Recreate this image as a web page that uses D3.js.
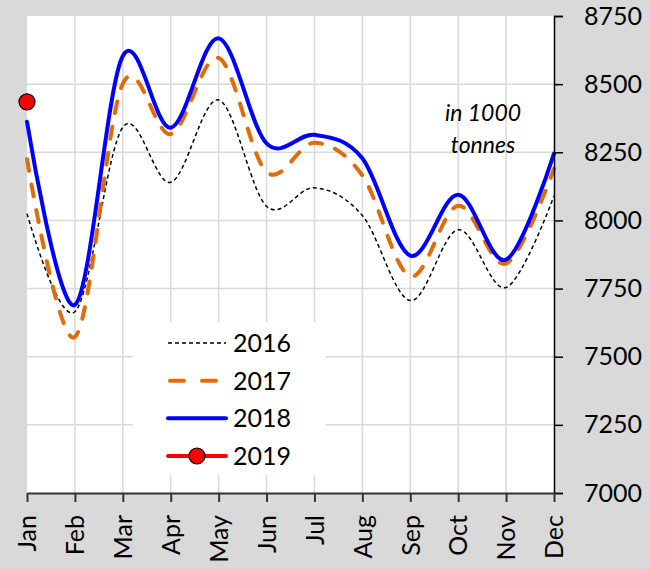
<!DOCTYPE html>
<html>
<head>
<meta charset="utf-8">
<script src="https://cdn.jsdelivr.net/npm/d3@7"></script>
<style>
  body { margin: 0; background: #d9d9d9; }
  text { font-family: Lato, "Liberation Sans", sans-serif; fill: #000; }
</style>
</head>
<body>
<div id="chart"></div>
<script>
var ctx = {
    w: 649,
    h: 569,
    left: 27,
    right: 554,
    top: 16,
    bottom: 493
};

var months = ["Jan", "Feb", "Mar", "Apr", "May", "Jun", "Jul", "Aug", "Sep", "Oct", "Nov", "Dec"];
var yTicks = [7000, 7250, 7500, 7750, 8000, 8250, 8500, 8750];
var years = ["2016", "2017", "2018", "2019"];

var v2016 = [8025, 7665, 8342, 8140, 8442, 8052, 8120, 8018, 7706, 7966, 7754, 8090];
var v2017 = [8225, 7572, 8502, 8317, 8596, 8178, 8285, 8165, 7795, 8054, 7842, 8190];
var v2018 = [8362, 7690, 8603, 8340, 8668, 8283, 8314, 8228, 7871, 8094, 7856, 8245];
var v2019 = [8435];

var styles = {
    "2016": { color: "#000", width: 1.5, dash: "4,3", cap: "butt" },
    "2017": { color: "#e36c0a", width: 4, dash: "12,14", cap: "round" },
    "2018": { color: "#0000ff", width: 4, dash: null, cap: "round" },
    "2019": { color: "#ff0000", width: 4, dash: null, cap: "round" }
};

var svg = d3.select("#chart").append("svg")
    .attr("width", ctx.w)
    .attr("height", ctx.h);

svg.append("rect")
    .attr("width", ctx.w).attr("height", ctx.h)
    .attr("fill", "#d9d9d9");

var x = d3.scalePoint()
    .domain(months)
    .range([ctx.left, ctx.right]);

var y = d3.scaleLinear()
    .domain([7000, 8750])
    .range([ctx.bottom, ctx.top]);

// plot area
svg.append("rect")
    .attr("x", ctx.left).attr("y", ctx.top)
    .attr("width", ctx.right - ctx.left)
    .attr("height", ctx.bottom - ctx.top)
    .attr("fill", "#fff");

// grid
svg.append("g").selectAll("line.v")
    .data(months.slice(1, 11))
    .enter().append("line")
    .attr("x1", function (d) { return x(d); })
    .attr("x2", function (d) { return x(d); })
    .attr("y1", ctx.top).attr("y2", ctx.bottom)
    .attr("stroke", "#d9d9d9").attr("stroke-width", 1.5);

svg.append("g").selectAll("line.h")
    .data(yTicks.slice(1, 7))
    .enter().append("line")
    .attr("x1", ctx.left).attr("x2", ctx.right)
    .attr("y1", function (d) { return y(d); })
    .attr("y2", function (d) { return y(d); })
    .attr("stroke", "#d9d9d9").attr("stroke-width", 1.5);

// series
var line = d3.line()
    .x(function (d, i) { return x(months[i]); })
    .y(function (d) { return y(d); })
    .curve(d3.curveCardinal.tension(0));

var series = [["2016", v2016], ["2017", v2017], ["2018", v2018]];
series.forEach(function (s) {
    var st = styles[s[0]];
    svg.append("path")
        .datum(s[1])
        .attr("d", line)
        .attr("fill", "none")
        .attr("stroke", st.color)
        .attr("stroke-width", st.width)
        .attr("stroke-linecap", st.cap)
        .attr("stroke-dasharray", st.dash);
});

svg.selectAll("circle.p2019")
    .data(v2019)
    .enter().append("circle")
    .attr("cx", function (d, i) { return x(months[i]); })
    .attr("cy", function (d) { return y(d); })
    .attr("r", 8)
    .attr("fill", "#ff0000")
    .attr("stroke", "#000")
    .attr("stroke-width", 1.2);

// axes
var yAxis = d3.axisRight(y)
    .tickValues(yTicks)
    .tickSize(9)
    .tickPadding(21)
    .tickFormat(d3.format("d"));

var gy = svg.append("g")
    .attr("transform", "translate(" + ctx.right + ",0)")
    .call(yAxis);
gy.select(".domain").attr("stroke", "#000").attr("stroke-width", 1.5);
gy.selectAll(".tick line").attr("stroke", "#000").attr("stroke-width", 1.5);
gy.selectAll(".tick text")
    .attr("font-size", 25)
    .attr("font-family", "Lato, sans-serif");

var xAxis = d3.axisBottom(x)
    .tickSize(9)
    .tickSizeOuter(0);

var gx = svg.append("g")
    .attr("transform", "translate(0," + ctx.bottom + ")")
    .call(xAxis);
gx.select(".domain").attr("stroke", "#333").attr("stroke-width", 2);
gx.selectAll(".tick line").attr("stroke", "#333").attr("stroke-width", 2);
gx.selectAll(".tick text")
    .attr("font-size", 25)
    .attr("font-family", "Lato, sans-serif")
    .attr("transform", "rotate(-90)")
    .attr("text-anchor", "end")
    .attr("x", -22)
    .attr("y", 0)
    .attr("dy", "0.35em");

// unit note
var note = svg.append("text")
    .attr("x", 483)
    .attr("y", 121)
    .attr("text-anchor", "middle")
    .attr("font-size", 23)
    .attr("font-style", "italic");
note.append("tspan").attr("x", 483).text("in 1000");
note.append("tspan").attr("x", 483).attr("dy", 32).text("tonnes");

// legend
var lg = svg.append("g");
lg.append("rect")
    .attr("x", 133).attr("y", 322)
    .attr("width", 193).attr("height", 153)
    .attr("fill", "#fff");

var rowY = d3.scalePoint().domain(years).range([343, 456]);

years.forEach(function (yr) {
    var st = styles[yr];
    var yy = rowY(yr);
    lg.append("line")
        .attr("x1", yr == "2017" ? 170 : 168).attr("x2", yr == "2017" ? 224 : 226)
        .attr("y1", yy).attr("y2", yy)
        .attr("stroke", st.color)
        .attr("stroke-width", st.width)
        .attr("stroke-linecap", st.cap)
        .attr("stroke-dasharray", yr == "2017" ? "14,18" : st.dash);
    if (yr == "2019") {
        lg.append("circle")
            .attr("cx", 197).attr("cy", yy).attr("r", 8)
            .attr("fill", "#ff0000").attr("stroke", "#000").attr("stroke-width", 1.2);
    }
    lg.append("text")
        .attr("x", 233).attr("y", yy)
        .attr("dy", "0.36em")
        .attr("font-size", 25)
        .text(yr);
});
</script>
</body>
</html>
